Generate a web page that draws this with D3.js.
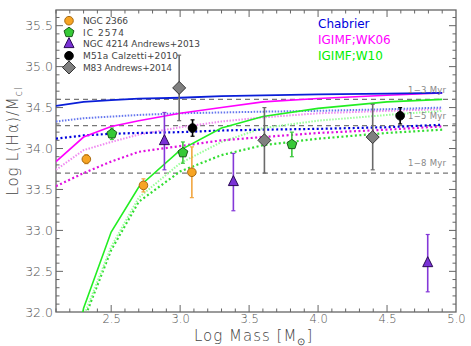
<!DOCTYPE html>
<html><head><meta charset="utf-8">
<script src="https://cdn.jsdelivr.net/npm/d3@7"></script>
<style>body{margin:0;background:#fff}svg{display:block}</style>
</head><body>
<svg id="c" width="471" height="346"></svg>
<script>
// ---- data ----
const massGrid = [2.1, 2.3, 2.5, 2.7, 3.0, 3.3, 3.6, 4.0, 4.5, 4.9];
const chab13 = [34.52, 34.57, 34.59, 34.61, 34.62, 34.64, 34.65, 34.66, 34.67, 34.68];
const chab15 = [34.33, 34.37, 34.39, 34.41, 34.43, 34.44, 34.45, 34.46, 34.48, 34.50];
const chab18 = [34.12, 34.16, 34.18, 34.19, 34.20, 34.22, 34.23, 34.24, 34.26, 34.29];
const wk13 = [33.84, 34.14, 34.27, 34.34, 34.43, 34.50, 34.57, 34.61, 34.65, 34.68];
const wk15 = [33.74, 33.98, 34.08, 34.17, 34.26, 34.33, 34.38, 34.43, 34.46, 34.48];
const wk18 = [33.54, 33.70, 33.84, 33.96, 34.03, 34.10, 34.14, 34.19, 34.23, 34.27];
const w10_13 = [30.5, 32.05, 32.98, 33.53, 33.98, 34.25, 34.39, 34.49, 34.57, 34.60];
const w10_15 = [30.3, 31.95, 32.80, 33.40, 33.82, 34.08, 34.25, 34.34, 34.41, 34.46];
const w10_18 = [30.2, 31.90, 32.76, 33.35, 33.72, 33.92, 34.04, 34.12, 34.19, 34.23];
const refLevels = [34.6, 34.28, 33.7];
const refLabels = ["1\u22123  Myr", "1\u22125  Myr", "1\u22128  Myr"];

const ngc2366Mass = [2.32, 2.734, 3.085], ngc2366L = [33.87, 33.55, 33.71], ngc2366Err = [0.055, 0.08, 0.31];
const ic2574Mass = [2.505, 3.02, 3.81], ic2574L = [34.18, 33.95, 34.05], ic2574Err = [0.07, 0.13, 0.15];
const ngc4214Mass = [2.886, 3.386, 4.795], ngc4214L = [34.09, 33.59, 32.60], ngc4214Err = [0.35, 0.35, 0.35];
const m51Mass = [3.09, 4.595], m51L = [34.25, 34.40], m51Err = [0.10, 0.10];
const m83Mass = [2.993, 3.611, 4.396], m83L = [34.74, 34.10, 34.14], m83Err = [0.40, 0.40, 0.40];

const legendNames = ["NGC  2366", "IC  2574", "NGC  4214  Andrews+2013", "M51a  Calzetti+2010", "M83  Andrews+2014"];
const imfNames = ["Chabrier", "IGIMF;WK06", "IGIMF;W10"];
const xTicks = [2.5, 3.0, 3.5, 4.0, 4.5, 5.0];
const yTicks = [32.0, 32.5, 33.0, 33.5, 34.0, 34.5, 35.0, 35.5];

// ---- layout ----
const svg = d3.select("#c");
const x = d3.scaleLinear().domain([2.1, 5.0]).range([56, 456]);
const y = d3.scaleLinear().domain([32, 35.7]).range([312.3, 9.3]);
const L = 56, R = 456, T = 10, B = 312;
const axisCol = "#666";

svg.append("defs").append("clipPath").attr("id", "clip")
  .append("rect").attr("x", L).attr("y", T).attr("width", R - L).attr("height", B - T);

// frame + ticks
const g = svg.append("g");
g.append("rect").attr("x", L).attr("y", T).attr("width", R - L).attr("height", B - T)
  .attr("fill", "none").attr("stroke", axisCol).attr("stroke-width", 1.3);
const minorX = d3.range(21, 50).map(v => v / 10);
minorX.forEach(v => {
  const isMaj = Math.abs(v * 2 - Math.round(v * 2)) < 1e-6;
  const len = isMaj ? 7 : 3.5;
  g.append("line").attr("x1", x(v)).attr("x2", x(v)).attr("y1", B).attr("y2", B - len).attr("stroke", axisCol);
  g.append("line").attr("x1", x(v)).attr("x2", x(v)).attr("y1", T).attr("y2", T + len).attr("stroke", axisCol);
});
const minorY = d3.range(321, 357).map(v => v / 10);
minorY.forEach(v => {
  const isMaj = Math.abs(v * 2 - Math.round(v * 2)) < 1e-6;
  const len = isMaj ? 7 : 3.5;
  g.append("line").attr("y1", y(v)).attr("y2", y(v)).attr("x1", L).attr("x2", L + len).attr("stroke", axisCol);
  g.append("line").attr("y1", y(v)).attr("y2", y(v)).attr("x1", R).attr("x2", R - len).attr("stroke", axisCol);
});
// tick labels via axes (no lines)
const xAxis = d3.axisBottom(x).tickValues(xTicks).tickFormat(d3.format(".1f")).tickSize(0).tickPadding(3);
const xa = svg.append("g").attr("transform", `translate(0,${B})`).call(xAxis);
xa.select(".domain").remove();
xa.selectAll("text").attr("font-family", "DejaVu Sans").attr("font-size", 11.5).attr("fill", "#555").attr("font-weight", 300);
const yAxis = d3.axisLeft(y).tickValues(yTicks).tickFormat(d3.format(".1f")).tickSize(0).tickPadding(3);
const ya = svg.append("g").attr("transform", `translate(${L},0)`).call(yAxis);
ya.select(".domain").remove();
ya.selectAll("text").attr("font-family", "DejaVu Sans").attr("font-size", 12.5).attr("fill", "#555").attr("font-weight", 300);

// axis titles
const xt = svg.append("text").attr("x", 194).attr("y", 341).attr("font-family", "DejaVu Sans")
  .attr("font-size", 15).attr("fill", "#444").attr("font-weight", 300).attr("letter-spacing", 1);
xt.append("tspan").text("Log Mass  [M");
xt.append("tspan").attr("dy", 4).attr("font-size", 10).text("\u2299");
xt.append("tspan").attr("dy", -4).text("]");
const yt = svg.append("text").attr("transform", "translate(18,141) rotate(-90)").attr("text-anchor", "middle")
  .attr("font-family", "DejaVu Sans").attr("font-size", 15).attr("fill", "#444").attr("font-weight", 300).attr("letter-spacing", 0.8);
yt.append("tspan").text("Log L(H\u03b1)/M");
yt.append("tspan").attr("dy", 4).attr("font-size", 10).text("cl");

// reference dashed lines
const plot = svg.append("g").attr("clip-path", "url(#clip)");
refLevels.forEach(v => {
  plot.append("line").attr("x1", L).attr("x2", R).attr("y1", y(v)).attr("y2", y(v))
    .attr("stroke", "#777").attr("stroke-width", 1.4).attr("stroke-dasharray", "5,4");
});
const labelLevels = [34.71, 34.40, 33.82];
refLabels.forEach((t, i) => {
  svg.append("text").attr("x", 408).attr("y", y(labelLevels[i]) + 3).attr("font-family", "DejaVu Sans")
    .attr("font-size", 8.5).attr("fill", "#888").attr("textLength", 38).attr("lengthAdjust", "spacing").text(t);
});

// model curves
const line = d3.line().x((d, i) => x(massGrid[i])).y(d => y(d));
const curves = [
  { v: w10_18, c: "#33dd33", w: 2.2, dash: "2,2.5" },
  { v: w10_15, c: "#99ff99", w: 2.0, dash: "1.5,1.5" },
  { v: wk18, c: "#e010e0", w: 2.2, dash: "2,2.5" },
  { v: wk15, c: "#f08af0", w: 2.0, dash: "1.5,1.5" },
  { v: chab18, c: "#0000dd", w: 2.2, dash: "2,2.5" },
  { v: chab15, c: "#6677ee", w: 2.0, dash: "1.5,1.5" },
  { v: w10_13, c: "#22ee22", w: 1.6, dash: null },
  { v: wk13, c: "#ff00ff", w: 1.6, dash: null },
  { v: chab13, c: "#0a1ed8", w: 1.8, dash: null }
];
curves.forEach(cv => {
  const p = plot.append("path").attr("d", line(cv.v)).attr("fill", "none")
    .attr("stroke", cv.c).attr("stroke-width", cv.w);
  if (cv.dash) p.attr("stroke-dasharray", cv.dash);
});

// symbols
function drawMarker(sel, type, cx, cy, fill, stroke) {
  if (type === "circle") { sel.append("circle").attr("cx", cx).attr("cy", cy).attr("r", 4.3).attr("fill", fill).attr("stroke", stroke).attr("stroke-width", 1); return; }
  let pts;
  if (type === "pent") pts = d3.range(5).map(k => { const a = -Math.PI / 2 + k * 2 * Math.PI / 5; return [cx + 5.2 * Math.cos(a), cy + 5.2 * Math.sin(a)]; });
  if (type === "tri") pts = [[cx, cy - 6.5], [cx + 5, cy + 3.5], [cx - 5, cy + 3.5]];
  if (type === "diam") pts = [[cx, cy - 6.5], [cx + 6.5, cy], [cx, cy + 6.5], [cx - 6.5, cy]];
  sel.append("polygon").attr("points", pts.map(p => p.join(",")).join(" ")).attr("fill", fill).attr("stroke", stroke).attr("stroke-width", 1);
}
const sets = [
  { m: ngc2366Mass, l: ngc2366L, e: ngc2366Err, type: "circle", fill: "#f7a423", stroke: "#a86a10", ebar: "#f2a640" },
  { m: ic2574Mass, l: ic2574L, e: ic2574Err, type: "pent", fill: "#36c936", stroke: "#1a5a1a", ebar: "#3bc83b" },
  { m: ngc4214Mass, l: ngc4214L, e: ngc4214Err, type: "tri", fill: "#7a32d6", stroke: "#2a0a55", ebar: "#8438d8" },
  { m: m51Mass, l: m51L, e: m51Err, type: "circle", fill: "#000", stroke: "#000", ebar: "#000" },
  { m: m83Mass, l: m83L, e: m83Err, type: "diam", fill: "#808080", stroke: "#333", ebar: "#6a6a6a" }
];
const pts = svg.append("g");
sets.forEach(s => {
  s.m.forEach((mv, i) => {
    const cx = x(mv), y1 = y(s.l[i] + s.e[i]), y2 = y(s.l[i] - s.e[i]);
    pts.append("line").attr("x1", cx).attr("x2", cx).attr("y1", y1).attr("y2", y2).attr("stroke", s.ebar).attr("stroke-width", 1.6);
    [y1, y2].forEach(yy => pts.append("line").attr("x1", cx - 2).attr("x2", cx + 2).attr("y1", yy).attr("y2", yy).attr("stroke", s.ebar).attr("stroke-width", 1.2));
  });
  s.m.forEach((mv, i) => drawMarker(pts, s.type, x(mv), y(s.l[i]), s.fill, s.stroke));
});

// legend
const legW = [45, 41, 117, 95, 89];
sets.forEach((s, i) => {
  const cy = 20.7 + i * 11.7;
  drawMarker(svg, s.type, 69, cy, s.fill, s.stroke);
  svg.append("text").attr("x", 83).attr("y", cy + 3.3).attr("font-family", "DejaVu Sans").attr("font-size", 9)
    .attr("fill", "#444").attr("textLength", legW[i]).attr("lengthAdjust", "spacing").text(legendNames[i]);
});
const imfCols = ["#0000dd", "#ff00ff", "#00ee00"];
imfNames.forEach((t, i) => {
  svg.append("text").attr("x", 318).attr("y", 27.5 + i * 16).attr("font-family", "DejaVu Sans").attr("font-size", 12)
    .attr("fill", imfCols[i]).text(t);
});
</script>
</body></html>
